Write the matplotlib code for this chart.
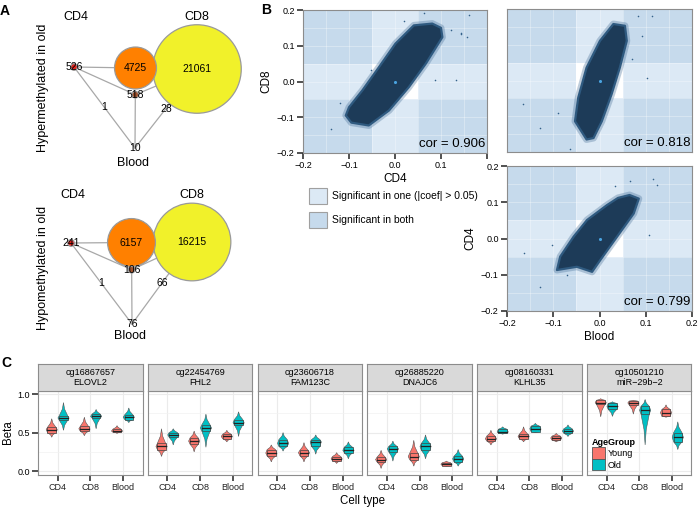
import numpy as np
import matplotlib
matplotlib.use("Agg")
import matplotlib.pyplot as plt
from matplotlib.patches import Circle, Rectangle, Polygon, Patch

plt.rcParams['font.family'] = ['Liberation Sans', 'DejaVu Sans']

# ---------------- panel A: overlap of significant CpGs ----------------
hyper_counts = {"CD4": 526, "CD8": 21061, "Blood": 10, "CD4_CD8": 4725,
                "CD4_Blood": 1, "CD8_Blood": 28, "all": 518}
hypo_counts = {"CD4": 241, "CD8": 16215, "Blood": 76, "CD4_CD8": 6157,
               "CD4_Blood": 1, "CD8_Blood": 66, "all": 106}
# layout of the three single-set nodes (pixels): CD4, CD8, Blood
hyper_x = [74, 197, 135]
hyper_y = [67, 69, 148]
hypo_x = [71, 192, 132]
hypo_y = [243, 242, 324]
node_colors = {"CD4": "#e3231c", "CD8": "#f1f12a", "CD4_CD8": "#ff8000", "all": "#a0522d"}

# ---------------- panel B: coefficient scatter ----------------
# outline of the dense point cloud
cd8_cd4_x = [-0.107, -0.095, -0.057, -0.013, 0.030, 0.067, 0.103, 0.100, 0.081, 0.041, 0.001, -0.035, -0.071, -0.100]
cd8_cd4_y = [-0.095, -0.115, -0.123, -0.081, -0.016, 0.050, 0.124, 0.150, 0.162, 0.157, 0.106, 0.040, -0.025, -0.072]
cd8_blood_x = [-0.028, -0.053, -0.046, -0.028, 0.001, 0.030, 0.055, 0.059, 0.044, 0.026, 0.005, -0.013]
cd8_blood_y = [-0.165, -0.114, -0.048, 0.036, 0.111, 0.158, 0.153, 0.111, 0.036, -0.039, -0.114, -0.161]
cd4_blood_x = [-0.092, -0.049, -0.016, 0.002, 0.038, 0.074, 0.085, 0.065, 0.040, 0.016, -0.027, -0.056, -0.085]
cd4_blood_y = [-0.087, -0.078, -0.092, -0.059, 0.005, 0.069, 0.110, 0.120, 0.112, 0.092, 0.051, 0.005, -0.050]
# stray points outside the cloud
cd8_cd4_px = [-0.140, -0.053, 0.063, 0.121, 0.144, 0.088, 0.132, 0.161, 0.143, 0.157, -0.120, 0.020]
cd8_cd4_py = [-0.133, 0.031, 0.193, 0.143, 0.137, 0.003, 0.003, 0.185, 0.134, 0.124, -0.060, 0.170]
cd8_blood_px = [-0.165, -0.129, -0.064, 0.084, 0.113, 0.102, 0.091, -0.090, 0.070]
cd8_blood_py = [-0.067, -0.133, -0.193, 0.181, 0.181, 0.008, 0.125, -0.090, 0.060]
cd4_blood_px = [-0.164, -0.128, -0.103, 0.034, 0.067, 0.116, 0.124, 0.106, -0.070]
cd4_blood_py = [-0.041, -0.133, -0.018, 0.145, 0.160, 0.163, 0.147, 0.010, -0.100]
cors = ["0.906", "0.818", "0.799"]
tick_vals = [-0.2, -0.1, 0.0, 0.1, 0.2]
tick_labels = ["\u22120.2", "\u22120.1", "0.0", "0.1", "0.2"]

# ---------------- panel C: beta values per probe ----------------
cell_types = ["CD4", "CD8", "Blood"]
probes = ["cg16867657\nELOVL2", "cg22454769\nFHL2", "cg23606718\nFAM123C",
          "cg26885220\nDNAJC6", "cg08160331\nKLHL35", "cg10501210\nmiR\u221229b\u22122"]
# (min, q1, median, q3, max) for CD4, CD8, Blood
young_stats = [
    [(0.44, 0.50, 0.54, 0.57, 0.68), (0.46, 0.52, 0.55, 0.58, 0.70), (0.49, 0.505, 0.52, 0.545, 0.59)],
    [(0.19, 0.28, 0.32, 0.36, 0.55), (0.25, 0.35, 0.39, 0.43, 0.52), (0.38, 0.42, 0.45, 0.48, 0.53)],
    [(0.12, 0.195, 0.235, 0.28, 0.34), (0.12, 0.20, 0.24, 0.27, 0.37), (0.10, 0.135, 0.16, 0.19, 0.24)],
    [(0.035, 0.12, 0.15, 0.18, 0.27), (0.065, 0.15, 0.19, 0.23, 0.40), (0.065, 0.07, 0.09, 0.11, 0.13)],
    [(0.34, 0.39, 0.42, 0.455, 0.53), (0.38, 0.42, 0.45, 0.48, 0.575), (0.38, 0.40, 0.43, 0.455, 0.49)],
    [(0.705, 0.865, 0.89, 0.92, 0.94), (0.74, 0.86, 0.885, 0.91, 0.92), (0.70, 0.71, 0.76, 0.80, 0.86)],
]
old_stats = [
    [(0.53, 0.66, 0.69, 0.72, 0.89), (0.55, 0.69, 0.71, 0.74, 0.80), (0.63, 0.67, 0.70, 0.73, 0.82)],
    [(0.34, 0.44, 0.47, 0.50, 0.55), (0.31, 0.52, 0.56, 0.60, 0.74), (0.45, 0.60, 0.63, 0.67, 0.77)],
    [(0.26, 0.32, 0.36, 0.41, 0.50), (0.22, 0.32, 0.38, 0.41, 0.47), (0.16, 0.24, 0.27, 0.31, 0.38)],
    [(0.13, 0.25, 0.29, 0.32, 0.39), (0.16, 0.27, 0.32, 0.36, 0.47), (0.065, 0.12, 0.16, 0.195, 0.28)],
    [(0.48, 0.49, 0.51, 0.545, 0.575), (0.50, 0.51, 0.55, 0.585, 0.62), (0.45, 0.49, 0.52, 0.55, 0.60)],
    [(0.71, 0.80, 0.84, 0.88, 0.90), (0.34, 0.74, 0.79, 0.84, 0.93), (0.28, 0.38, 0.44, 0.50, 0.64)],
]
young_color = "#F8766D"
old_color = "#00BFC4"

W, H = 700, 508
fig = plt.figure(figsize=(7, 5.08), dpi=100)


def px_axes(x0, y0, x1, y1):
    return fig.add_axes([x0 / W, 1 - y1 / H, (x1 - x0) / W, (y1 - y0) / H])


# overlay in pixel units for panel A, legends and letters
ov = fig.add_axes([0, 0, 1, 1])
ov.set_xlim(0, W)
ov.set_ylim(H, 0)
ov.axis('off')


def draw_network(counts, xs, ys, top_label_y, blood_dy):
    pos = {n: (x, y) for n, x, y in zip(["CD4", "CD8", "Blood"], xs, ys)}
    mid = lambda a, b: ((pos[a][0] + pos[b][0]) / 2, (pos[a][1] + pos[b][1]) / 2)
    pos["CD4_CD8"] = mid("CD4", "CD8")
    pos["CD4_Blood"] = mid("CD4", "Blood")
    pos["CD8_Blood"] = mid("CD8", "Blood")
    pos["all"] = (np.mean(xs), np.mean(ys))
    edges = [("CD4", "CD8"), ("CD4", "Blood"), ("CD8", "Blood"),
             ("CD4", "all"), ("CD8", "all"), ("Blood", "all")]
    for a, b in edges:
        ov.plot([pos[a][0], pos[b][0]], [pos[a][1], pos[b][1]], color="#a8a8a8", lw=0.9, zorder=1)
    for n in ["CD8", "CD4_CD8", "CD4", "all"]:
        r = 0.305 * np.sqrt(counts[n]) if counts[n] > 1000 else 3.3
        ov.add_patch(Circle(pos[n], r, facecolor=node_colors[n], edgecolor="#9a9a9a", lw=0.9, zorder=2))
    for n, c in counts.items():
        ov.text(pos[n][0], pos[n][1], str(c), ha='center', va='center', fontsize=7.5, zorder=3)
    ov.text(pos["CD4"][0] + 2, top_label_y, "CD4", ha='center', va='center', fontsize=9)
    ov.text(pos["CD8"][0], top_label_y, "CD8", ha='center', va='center', fontsize=9)
    ov.text(pos["Blood"][0] - 2, pos["Blood"][1] + blood_dy, "Blood", ha='center', va='center', fontsize=9)


draw_network(hyper_counts, hyper_x, hyper_y, 17, 15)
draw_network(hypo_counts, hypo_x, hypo_y, 195, 12)
ov.text(43, 88, "Hypermethylated in old", rotation=90, ha='center', va='center', fontsize=9)
ov.text(43, 268, "Hypomethylated in old", rotation=90, ha='center', va='center', fontsize=9)

for letter, x, y in [("A", 5, 11), ("B", 266, 10), ("C", 6, 363)]:
    ov.text(x, y, letter, ha='center', va='center', fontsize=10, fontweight='bold')

# ---------------- panel B ----------------
region_colors = ["white", "#dce9f5", "#c6daec"]
bounds = [-0.2, -0.05, 0.05, 0.2]


def scatter_panel(ax, cx, cy, px, py, cor, xlab=None, ylab=None, show_x=True, show_y=True,
                  xlabels=tick_labels):
    ax.set_xlim(-0.2, 0.2)
    ax.set_ylim(-0.2, 0.2)
    for i in range(3):
        for j in range(3):
            n = int(i != 1) + int(j != 1)
            ax.add_patch(Rectangle((bounds[i], bounds[j]), bounds[i + 1] - bounds[i],
                                   bounds[j + 1] - bounds[j], facecolor=region_colors[n],
                                   edgecolor='none', zorder=0))
    for g in [-0.15, -0.1, -0.05, 0.0, 0.05, 0.1, 0.15]:
        ax.axvline(g, color='white', alpha=0.45, lw=0.5, zorder=1)
        ax.axhline(g, color='white', alpha=0.45, lw=0.5, zorder=1)
    outline = np.column_stack([cx, cy])
    # soft rim of sparse points, then the dense core
    ax.add_patch(Polygon(outline, closed=True, facecolor='none', edgecolor='#4a7299',
                         lw=5, alpha=0.35, joinstyle='round', zorder=2))
    ax.add_patch(Polygon(outline, closed=True, facecolor='#1d3b58',
                         edgecolor='#2f5a80', lw=1.6, joinstyle='round', zorder=2))
    ax.scatter(px, py, s=1.3, color='#34618a', lw=0, zorder=2)
    ax.scatter([0], [0], s=5, color='#4aa3e0', lw=0, zorder=3)
    ax.text(0.196, -0.193, "cor = " + cor, ha='right', va='bottom', fontsize=9.5, zorder=4)
    for s in ax.spines.values():
        s.set_color('#8c8c8c')
        s.set_linewidth(0.8)
    ax.set_xticks(tick_vals)
    ax.set_yticks(tick_vals)
    if show_x:
        ax.set_xticklabels(xlabels)
        ax.tick_params(axis='x', length=4, width=1.1, color='#222222', labelsize=6.5, pad=2)
    else:
        ax.tick_params(axis='x', length=0, labelbottom=False)
    if show_y:
        ax.set_yticklabels(tick_labels)
        ax.tick_params(axis='y', length=4, width=1.1, color='#222222', labelsize=6.5, pad=2)
    else:
        ax.tick_params(axis='y', length=0, labelleft=False)
    if xlab:
        ax.set_xlabel(xlab, fontsize=8.5, labelpad=2)
    if ylab:
        ax.set_ylabel(ylab, fontsize=8.5, labelpad=3)


ax_tl = px_axes(303, 10, 487, 153)
scatter_panel(ax_tl, cd8_cd4_x, cd8_cd4_y, cd8_cd4_px, cd8_cd4_py, cors[0], "CD4", "CD8",
              xlabels=tick_labels[:4] + [""])
ax_tr = px_axes(507, 9, 692, 152)
scatter_panel(ax_tr, cd8_blood_x, cd8_blood_y, cd8_blood_px, cd8_blood_py, cors[1], show_x=False, show_y=False)
ax_br = px_axes(507, 166, 692, 311)
scatter_panel(ax_br, cd4_blood_x, cd4_blood_y, cd4_blood_px, cd4_blood_py, cors[2], "Blood", "CD4")

legend_items = ["Significant in one (|coef| > 0.05)", "Significant in both"]
for k, lab in enumerate(legend_items):
    y0 = 188 + 24 * k
    ov.add_patch(Rectangle((309, y0), 18, 16, facecolor=region_colors[k + 1], edgecolor='#a0a0a0', lw=0.8))
    ov.text(332, y0 + 8, lab, ha='left', va='center', fontsize=7.5)

# ---------------- panel C ----------------
def glyph(ax, c, st, color):
    lo, q1, med, q3, hi = st
    vw, bw = 0.17, 0.13
    ys = [lo, lo + 0.5 * (q1 - lo), q1, med, q3, q3 + 0.5 * (hi - q3), hi]
    ws = [0, 0.2, 0.75, 1.0, 0.75, 0.2, 0]
    right = [(c + vw * w, y) for w, y in zip(ws, ys)]
    left = [(c - vw * w, y) for w, y in zip(ws[::-1], ys[::-1])]
    ax.add_patch(Polygon(right + left, closed=True, facecolor=color, edgecolor='#555555', lw=0.4, zorder=3))
    ax.add_patch(Rectangle((c - bw, q1), 2 * bw, q3 - q1, facecolor=color, edgecolor='#444444', lw=0.5, zorder=4))
    ax.plot([c - bw, c + bw], [med, med], color='#222222', lw=0.9, zorder=5)


dodge = 0.18
for k in range(6):
    left = 38 + 109.8 * k
    ax = px_axes(left, 391, left + 104.5, 475)
    ax.set_xlim(0.4, 3.6)
    ax.set_ylim(-0.05, 1.04)
    ax.set_yticks([0, 0.5, 1.0])
    ax.set_yticks([0.25, 0.75], minor=True)
    ax.set_xticks([1, 2, 3])
    ax.set_xticklabels(cell_types)
    ax.grid(True, which='major', color='#ebebeb', lw=0.8, zorder=0)
    ax.grid(True, which='minor', axis='y', color='#f2f2f2', lw=0.5, zorder=0)
    ax.set_axisbelow(True)
    for i in range(3):
        glyph(ax, i + 1 - dodge, young_stats[k][i], young_color)
        glyph(ax, i + 1 + dodge, old_stats[k][i], old_color)
    for s in ax.spines.values():
        s.set_color('#8c8c8c')
        s.set_linewidth(0.8)
    ax.tick_params(axis='x', length=4, width=1.1, color='#222222', labelsize=6.5, pad=2, labelcolor='#222222')
    ax.tick_params(axis='y', which='minor', length=0)
    if k == 0:
        ax.set_yticklabels(["0.0", "0.5", "1.0"])
        ax.tick_params(axis='y', length=4, width=1.1, color='#222222', labelsize=6.5, pad=2)
    else:
        ax.tick_params(axis='y', length=0, labelleft=False)

    strip = px_axes(left, 364, left + 104.5, 391)
    strip.set_facecolor('#d9d9d9')
    strip.set_xticks([])
    strip.set_yticks([])
    for s in strip.spines.values():
        s.set_color('#8c8c8c')
        s.set_linewidth(0.8)
    strip.text(0.5, 0.5, probes[k], ha='center', va='center', fontsize=6.5,
               linespacing=1.15, transform=strip.transAxes)

    if k == 5:
        handles = [Patch(facecolor=young_color, edgecolor='#555555', lw=0.6),
                   Patch(facecolor=old_color, edgecolor='#555555', lw=0.6)]
        leg = ax.legend(handles, ["Young", "Old"], title="AgeGroup", loc='lower left',
                        bbox_to_anchor=(0.0, 0.0), borderaxespad=0.0, borderpad=0.5,
                        frameon=False, fontsize=6.5, title_fontsize=6.5,
                        handlelength=1.5, handleheight=1.55, labelspacing=0.05,
                        handletextpad=0.25, alignment='left')
        leg.get_title().set_fontweight('bold')

ov.text(8, 432, "Beta", rotation=90, ha='center', va='center', fontsize=8.3)
ov.text(363, 501, "Cell type", ha='center', va='center', fontsize=8.3)

fig.savefig("out.png", dpi=100)
